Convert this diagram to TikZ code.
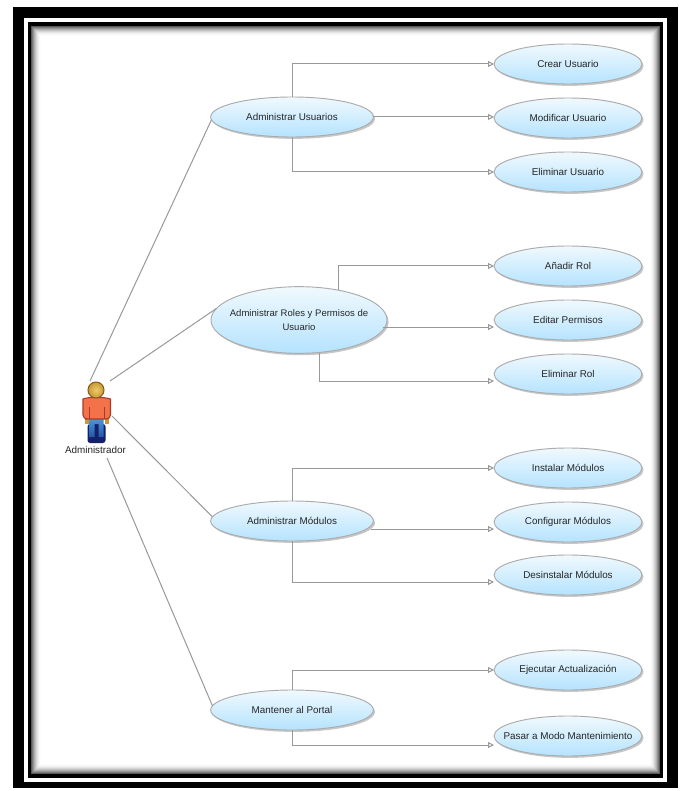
\documentclass[tikz,border=0pt]{standalone}
\usepackage{fontspec}
\setmainfont{Liberation Sans}
\usetikzlibrary{arrows.meta,shadows,shapes.geometric}
\definecolor{uctop}{HTML}{F0F9FD}
\definecolor{ucbot}{HTML}{B5E3FF}
\definecolor{ucline}{HTML}{ABABAB}
\definecolor{conn}{HTML}{999999}
\definecolor{shirt}{HTML}{F4724A}
\definecolor{shirtline}{HTML}{A83A2A}
\definecolor{headin}{HTML}{EBCB6A}
\definecolor{headout}{HTML}{C79A35}
\definecolor{headline}{HTML}{8A5A20}
\definecolor{pantstop}{HTML}{4C9AD8}
\definecolor{pantsbot}{HTML}{2458A8}
\definecolor{shoes}{HTML}{14206A}
\tikzset{
  ucbase/.style={ellipse,draw=ucline,line width=0.7pt,top color=uctop,bottom color=ucbot,
    inner xsep=-14pt,inner ysep=-4pt,outer sep=0pt,align=center,text=black!85,font=\fontsize{7.4pt}{10.5pt}\selectfont,
    drop shadow={shadow xshift=1.2pt,shadow yshift=-1.4pt,opacity=0.22,fill=black}},
  ucsub/.style={ucbase,minimum width=111pt,minimum height=30pt},
  ucmain/.style={ucbase,minimum width=122pt,minimum height=30pt},
  ucwide/.style={ucbase,minimum width=132pt,minimum height=50pt,font=\fontsize{7.15pt}{10.5pt}\selectfont},
  link/.style={draw=conn,line width=0.75pt},
  flow/.style={link,-{Triangle[open,fill=white,length=4.5pt,width=4.5pt]}},
}
\begin{document}
\begin{tikzpicture}[x=0.75pt,y=-0.75pt]
\useasboundingbox (0,0) rectangle (683,791);
% frame
\fill[black] (13,7) rectangle (678,788);
\fill[white] (24,18) rectangle (667,782);
\fill[black] (28,22) rectangle (663,778);
\fill[white] (31,26) rectangle (660,774);
\foreach \i in {0,...,9}{
  \pgfmathsetmacro{\g}{35+65*(1-(1-\i/10)^2)}
  \draw[white!\g!black,line width=0.75pt] (31.5+\i,26.5+\i) rectangle (659.5-\i,773.5-\i);
}
% use cases
\node[ucmain] (u) at (292,117) {Administrar Usuarios};
\node[ucwide] (r) at (299,320) {Administrar Roles y Permisos de\\Usuario};
\node[ucmain] (m) at (292,521) {Administrar Módulos};
\node[ucmain] (p) at (292,710) {Mantener al Portal};
\node[ucsub] (u1) at (568,64) {Crear Usuario};
\node[ucsub] (u2) at (568,118) {Modificar Usuario};
\node[ucsub] (u3) at (568,172) {Eliminar Usuario};
\node[ucsub] (r1) at (568,266) {Añadir Rol};
\node[ucsub] (r2) at (568,320) {Editar Permisos};
\node[ucsub] (r3) at (568,374) {Eliminar Rol};
\node[ucsub] (m1) at (568,468) {Instalar Módulos};
\node[ucsub] (m2) at (568,522) {Configurar Módulos};
\node[ucsub] (m3) at (568,575) {Desinstalar Módulos};
\node[ucsub] (p1) at (568,670) {Ejecutar Actualización};
\node[ucsub] (p2) at (568,736) {Pasar a Modo Mantenimiento};
% actor
\fill[shoes,rounded corners=2pt] (87.5,424) rectangle (105.5,443);
\shade[top color=pantstop,bottom color=pantsbot] (89.5,418) -- (103.5,418) -- (103.5,437) -- (98.5,437) -- (98.5,424) -- (94.5,424) -- (94.5,437) -- (89.5,437) -- cycle;
\fill[headout] (84.5,418) rectangle (88.5,424);
\fill[headout] (104.5,418) rectangle (108.5,424);
\draw[draw=shirtline,line width=0.8pt,fill=shirt,rounded corners=3pt] (83,419) -- (83,403) .. controls (83,399) and (87,397.5) .. (96,397.5) .. controls (106,397.5) and (110.5,399) .. (110.5,403) -- (110.5,419) -- (89,419) -- cycle;
\draw[shirtline,line width=0.6pt] (89,407) -- (89,419) (104,407) -- (104,419);
\shade[inner color=headin,outer color=headout] (96,390) circle[radius=8];
\draw[headline,line width=0.8pt] (96,390) circle[radius=8];
\node[inner sep=0pt,text=black!85,font=\fontsize{7.4pt}{9pt}\selectfont] (actor) at (95.5,450) {Administrador};
\coordinate (a1) at (90,381);
\coordinate (a2) at (110,381);
\coordinate (a3) at (112,416);
\coordinate (a4) at (107,458);
\draw[link] (a1) -- (u.182);
\draw[link] (a2) -- (r.172);
\draw[link] (a3) -- (m.177);
\draw[link] (a4) -- (p.177);
% flows
\coordinate (rt) at (338,290);
\coordinate (rb) at (319,352.5);
\coordinate (re) at (383,327);
\coordinate (me) at (371,529);
\draw[flow] (u.north) |- (u1.west);
\draw[flow] (u.east) -- (u2.west |- u.east);
\draw[flow] (u.south) |- (u3.west);
\draw[flow] (rt) |- (r1.west);
\draw[flow] (re) -- (r2.west |- re);
\draw[flow] (rb) |- (r3.west |- 0,381);
\draw[flow] (m.north) |- (m1.west);
\draw[flow] (me) -- (m2.west |- me);
\draw[flow] (m.south) |- (m3.west |- 0,582);
\draw[flow] (p.north) |- (p1.west);
\draw[flow] (p.south) |- (p2.west |- 0,745);
\end{tikzpicture}
\end{document}
